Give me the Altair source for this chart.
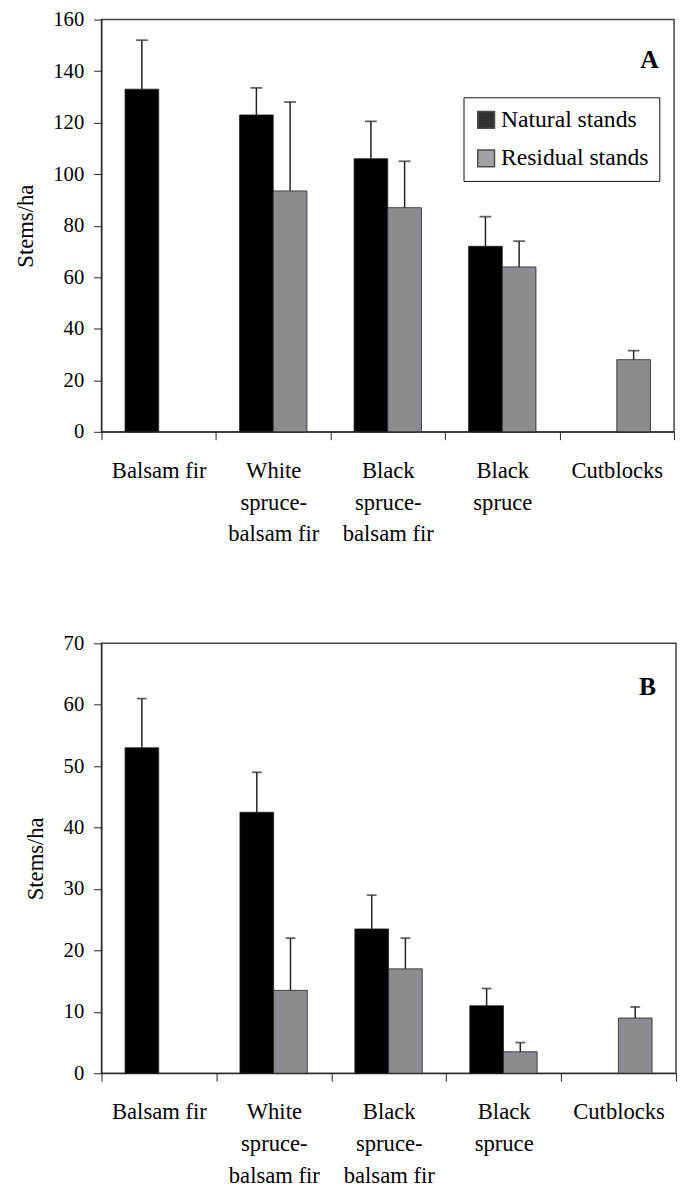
import altair as alt
import pandas as pd

categories = ["Balsam fir", "White spruce-balsam fir", "Black spruce-balsam fir", "Black spruce", "Cutblocks"]
label_lines = {
    "White spruce-balsam fir": ["White", "spruce-", "balsam fir"],
    "Black spruce-balsam fir": ["Black", "spruce-", "balsam fir"],
    "Black spruce": ["Black", "spruce"],
}
series = ["Natural stands", "Residual stands"]

# Panel A
a_natural = [133, 123, 106, 72, 0]
a_natural_err = [19, 10.5, 14.5, 11.5, None]
a_residual = [0, 93.5, 87, 64, 28]
a_residual_err = [None, 34.5, 18, 10, 3.5]
a_ticks = [0, 20, 40, 60, 80, 100, 120, 140, 160]

# Panel B
b_natural = [53, 42.5, 23.5, 11, 0]
b_natural_err = [8, 6.5, 5.5, 2.8, None]
b_residual = [0, 13.5, 17, 3.5, 9]
b_residual_err = [None, 8.5, 5, 1.5, 1.8]
b_ticks = [0, 10, 20, 30, 40, 50, 60, 70]

FONT = "Liberation Serif"


def panel_df(nat, nat_err, res, res_err):
    rows = []
    for i, c in enumerate(categories):
        rows.append(dict(category=c, series=series[0], value=nat[i], err=nat_err[i]))
        rows.append(dict(category=c, series=series[1], value=res[i], err=res_err[i]))
    df = pd.DataFrame(rows)
    df["err"] = pd.to_numeric(df["err"])
    df["top"] = df["value"] + df["err"]
    return df


def label_expr():
    parts = []
    for k, lines in label_lines.items():
        arr = "[" + ",".join("'" + l + "'" for l in lines) + "]"
        parts.append(f"datum.label == '{k}' ? {arr} : ")
    return "".join(parts) + "datum.label"


def panel(df, ticks, letter, width, height, show_legend, title_pad, cap, letter_dx, letter_y):
    ymax = ticks[-1]
    x = alt.X(
        "category:N",
        sort=categories,
        scale=alt.Scale(paddingInner=0, paddingOuter=0),
        axis=alt.Axis(
            title=None, labelAngle=0, tickBand="extent", labelExpr=label_expr(),
            labelFont=FONT, labelFontSize=23, labelLineHeight=32.5, labelPadding=20,
            tickSize=8, labelColor="black", domainColor="#222", tickColor="#222",
        ),
    )
    xo = alt.XOffset("series:N", sort=series, scale=alt.Scale(paddingOuter=0.7, paddingInner=0))
    yscale = alt.Scale(domain=[0, ymax], nice=False)
    yaxis = alt.Axis(
        values=ticks, title="Stems/ha", grid=False, labelFont=FONT, labelFontSize=21,
        labelColor="black", titleFont=FONT, titleFontSize=23, titleFontWeight="normal",
        titleColor="black", tickSize=8, labelPadding=10, titlePadding=title_pad,
        domainColor="#222", tickColor="#222",
    )
    if show_legend:
        legend = alt.Legend(
            title=None, orient="none", legendX=368, legendY=79, direction="vertical",
            labelFont=FONT, labelFontSize=24, labelColor="black", symbolType="square",
            symbolSize=289, symbolOpacity=0.8, strokeColor="#111", fillColor="white",
            padding=11, rowPadding=15, labelOffset=3,
        )
    else:
        legend = None
    color = alt.Color(
        "series:N", sort=series,
        scale=alt.Scale(domain=series, range=["#000000", "#8c8c90"]),
        legend=legend,
    )
    base = alt.Chart(df)
    bars = base.transform_filter("datum.value > 0").mark_bar(
        stroke="#222", strokeWidth=0.8
    ).encode(x=x, xOffset=xo, y=alt.Y("value:Q", scale=yscale, axis=yaxis), color=color)
    rules = base.transform_filter("isValid(datum.top) && datum.err > 0").mark_rule(
        color="#222", strokeWidth=1.5
    ).encode(x=x, xOffset=xo, y="value:Q", y2="top:Q")
    caps = base.transform_filter("isValid(datum.top) && datum.err > 0").mark_tick(
        color="#222", thickness=1.8, size=cap
    ).encode(x=x, xOffset=xo, y="top:Q")
    lbl = alt.Chart(pd.DataFrame({"t": [letter]})).mark_text(
        font=FONT, fontSize=26, fontWeight="bold", color="black"
    ).encode(text="t:N", x=alt.value(width - letter_dx), y=alt.value(letter_y))
    return alt.layer(bars, rules, caps, lbl).properties(width=width, height=height)


dfa = panel_df(a_natural, a_natural_err, a_residual, a_residual_err)
dfb = panel_df(b_natural, b_natural_err, b_residual, b_residual_err)

pa = panel(dfa, a_ticks, "A", 582, 419, True, 16, 12, 25, 41)
pb = panel(dfb, b_ticks, "B", 584, 437, False, 16, 10, 29, 45)

chart = alt.vconcat(pa, pb, spacing=86).resolve_scale(color="independent").resolve_legend(
    color="independent"
).configure(padding={"left": 5, "top": -10, "right": 0, "bottom": 0}).configure_view(
    stroke="#444", strokeWidth=1.5
)

chart.save("out.html", embed_options={"renderer": "svg", "actions": False})
